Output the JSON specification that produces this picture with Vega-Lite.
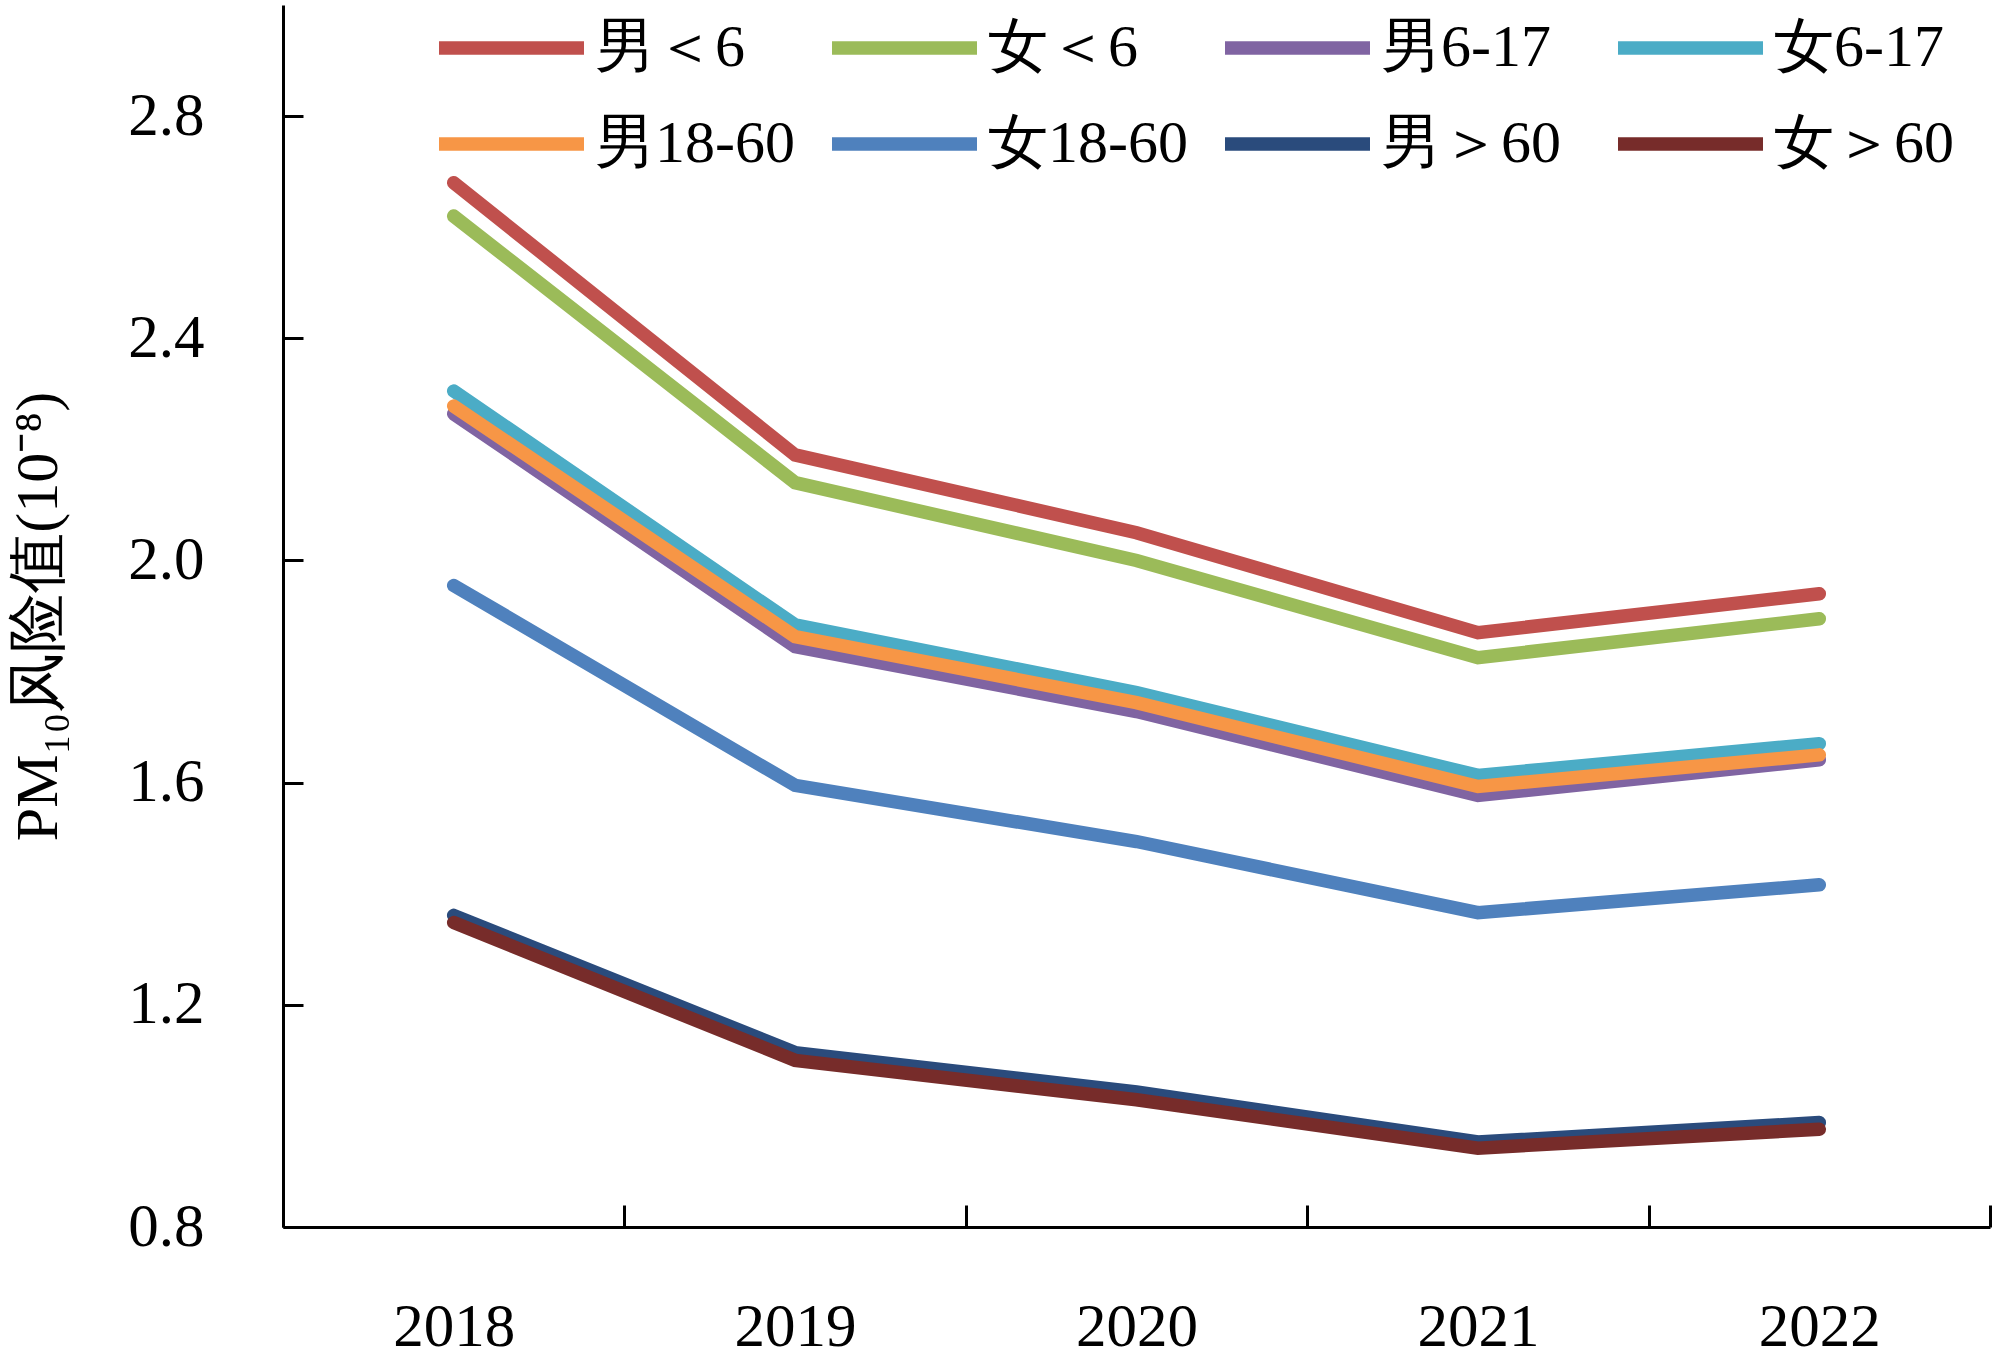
{
  "$schema": "https://vega.github.io/schema/vega-lite/v6.json",
  "autosize": "none",
  "width": 1707,
  "height": 1222,
  "padding": {"left": 283, "top": 5, "right": 10, "bottom": 134},
  "background": "white",
  "config": {
    "view": {"stroke": null},
    "font": "Liberation Serif"
  },
  "data": {
    "values": [
      {"year": "2018", "group": "男＜6", "value": 2.68},
      {"year": "2019", "group": "男＜6", "value": 2.19},
      {"year": "2020", "group": "男＜6", "value": 2.05},
      {"year": "2021", "group": "男＜6", "value": 1.87},
      {"year": "2022", "group": "男＜6", "value": 1.94},
      {"year": "2018", "group": "女＜6", "value": 2.62},
      {"year": "2019", "group": "女＜6", "value": 2.14},
      {"year": "2020", "group": "女＜6", "value": 2.00},
      {"year": "2021", "group": "女＜6", "value": 1.825},
      {"year": "2022", "group": "女＜6", "value": 1.895},
      {"year": "2018", "group": "男6-17", "value": 2.264},
      {"year": "2019", "group": "男6-17", "value": 1.845},
      {"year": "2020", "group": "男6-17", "value": 1.728},
      {"year": "2021", "group": "男6-17", "value": 1.577},
      {"year": "2022", "group": "男6-17", "value": 1.641},
      {"year": "2018", "group": "女6-17", "value": 2.305},
      {"year": "2019", "group": "女6-17", "value": 1.884},
      {"year": "2020", "group": "女6-17", "value": 1.762},
      {"year": "2021", "group": "女6-17", "value": 1.613},
      {"year": "2022", "group": "女6-17", "value": 1.67},
      {"year": "2018", "group": "男18-60", "value": 2.278},
      {"year": "2019", "group": "男18-60", "value": 1.863},
      {"year": "2020", "group": "男18-60", "value": 1.744},
      {"year": "2021", "group": "男18-60", "value": 1.593},
      {"year": "2022", "group": "男18-60", "value": 1.65},
      {"year": "2018", "group": "女18-60", "value": 1.955},
      {"year": "2019", "group": "女18-60", "value": 1.595},
      {"year": "2020", "group": "女18-60", "value": 1.494},
      {"year": "2021", "group": "女18-60", "value": 1.366},
      {"year": "2022", "group": "女18-60", "value": 1.416},
      {"year": "2018", "group": "男＞60", "value": 1.361},
      {"year": "2019", "group": "男＞60", "value": 1.114},
      {"year": "2020", "group": "男＞60", "value": 1.043},
      {"year": "2021", "group": "男＞60", "value": 0.953},
      {"year": "2022", "group": "男＞60", "value": 0.988},
      {"year": "2018", "group": "女＞60", "value": 1.348},
      {"year": "2019", "group": "女＞60", "value": 1.100},
      {"year": "2020", "group": "女＞60", "value": 1.029},
      {"year": "2021", "group": "女＞60", "value": 0.942},
      {"year": "2022", "group": "女＞60", "value": 0.976}
    ]
  },
  "mark": {"type": "line", "strokeWidth": 13.5, "strokeCap": "round", "strokeJoin": "miter"},
  "encoding": {
    "x": {
      "field": "year", "type": "ordinal",
      "scale": {"type": "band", "paddingInner": 0, "paddingOuter": 0},
      "axis": {
        "title": null, "labelAngle": 0, "tickBand": "extent",
        "domainColor": "black", "domainWidth": 3,
        "tickColor": "black", "tickWidth": 3, "tickSize": -22,
        "labelFont": "Liberation Serif", "labelFontSize": 61, "labelColor": "black",
        "labelPadding": 92
      }
    },
    "y": {
      "field": "value", "type": "quantitative",
      "scale": {"domain": [0.8, 3.0], "nice": false, "zero": false},
      "axis": {
        "values": [0.8, 1.2, 1.6, 2.0, 2.4, 2.8], "format": ".1f", "grid": false,
        "domainColor": "black", "domainWidth": 3,
        "tickColor": "black", "tickWidth": 3, "tickSize": -20,
        "labelFont": "Liberation Serif", "labelFontSize": 61, "labelColor": "black",
        "labelPadding": 99,
        "title": "PM₁₀风险值(10⁻⁸)",
        "titleFont": "Liberation Serif", "titleFontSize": 60, "titleFontWeight": "normal", "titleColor": "black",
        "titleX": -245, "titleY": 611, "titleAngle": -90, "titleAlign": "center", "titleBaseline": "middle"
      }
    },
    "color": {
      "field": "group", "type": "nominal",
      "scale": {
        "domain": ["男＜6", "女＜6", "男6-17", "女6-17", "男18-60", "女18-60", "男＞60", "女＞60"],
        "range": ["#C0504D", "#9BBB59", "#8064A2", "#4BACC6", "#F79646", "#4F81BD", "#2A4B7C", "#772C2A"]
      },
      "legend": {
        "title": null, "orient": "none", "legendX": 149, "legendY": 8,
        "direction": "horizontal", "columns": 4, "gridAlign": "all",
        "symbolType": "stroke", "symbolSize": 21025, "symbolStrokeWidth": 13.5,
        "labelFont": "Liberation Serif", "labelFontSize": 60, "labelColor": "black",
        "labelOffset": 4, "columnPadding": 30, "rowPadding": 26, "padding": 0,
        "clipHeight": 70,
        "labelLimit": 0
      }
    },
    "order": {"field": "year"}
  }
}
